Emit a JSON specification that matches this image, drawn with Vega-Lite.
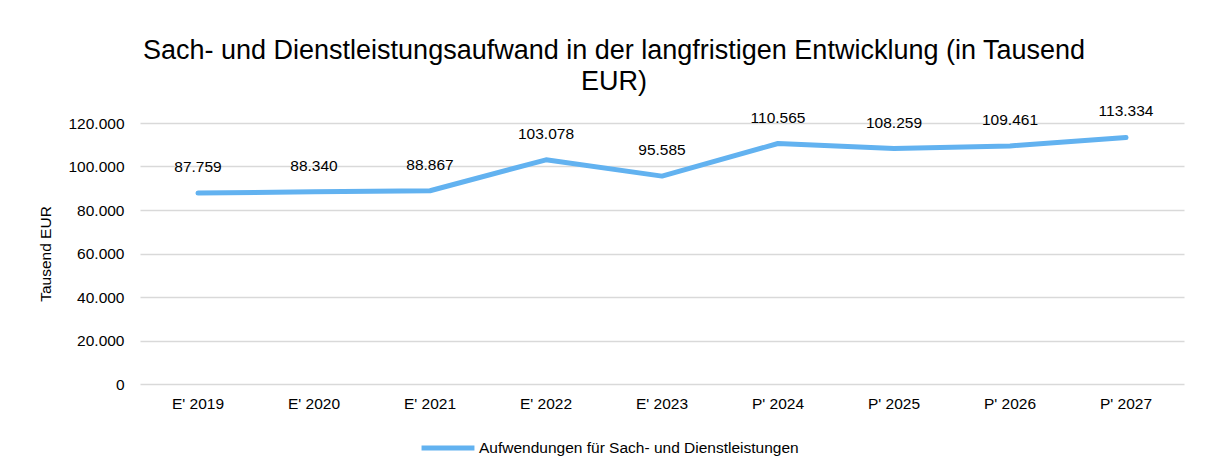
{
  "$schema": "https://vega.github.io/schema/vega-lite/v6.json",
  "width": 1044,
  "height": 261,
  "autosize": {"type": "none"},
  "padding": {"left": 140, "top": 123, "right": 23, "bottom": 88},
  "background": "white",
  "config": {
    "font": "Liberation Sans",
    "view": {"stroke": null},
    "locale": {"number": {"decimal": ",", "thousands": ".", "grouping": [3], "currency": ["", " €"]}}
  },
  "title": {
    "text": ["Sach- und Dienstleistungsaufwand in der langfristigen Entwicklung (in Tausend", "EUR)"],
    "fontSize": 27,
    "fontWeight": "normal",
    "color": "#000000",
    "lineHeight": 31,
    "anchor": "middle",
    "dx": -48,
    "offset": 8
  },
  "data": {
    "values": [
      {"jahr": "E' 2019", "wert": 87759, "serie": "Aufwendungen für Sach- und Dienstleistungen"},
      {"jahr": "E' 2020", "wert": 88340, "serie": "Aufwendungen für Sach- und Dienstleistungen"},
      {"jahr": "E' 2021", "wert": 88867, "serie": "Aufwendungen für Sach- und Dienstleistungen"},
      {"jahr": "E' 2022", "wert": 103078, "serie": "Aufwendungen für Sach- und Dienstleistungen"},
      {"jahr": "E' 2023", "wert": 95585, "serie": "Aufwendungen für Sach- und Dienstleistungen"},
      {"jahr": "P' 2024", "wert": 110565, "serie": "Aufwendungen für Sach- und Dienstleistungen"},
      {"jahr": "P' 2025", "wert": 108259, "serie": "Aufwendungen für Sach- und Dienstleistungen"},
      {"jahr": "P' 2026", "wert": 109461, "serie": "Aufwendungen für Sach- und Dienstleistungen"},
      {"jahr": "P' 2027", "wert": 113334, "serie": "Aufwendungen für Sach- und Dienstleistungen"}
    ]
  },
  "encoding": {
    "x": {
      "field": "jahr",
      "type": "ordinal",
      "sort": null,
      "scale": {"type": "band", "paddingInner": 0, "paddingOuter": 0},
      "axis": {
        "title": null,
        "labelAngle": 0,
        "labelFontSize": 15.5,
        "labelColor": "#000000",
        "labelPadding": 12,
        "domain": false,
        "ticks": false,
        "grid": false
      }
    },
    "y": {
      "field": "wert",
      "type": "quantitative",
      "scale": {"domain": [0, 120000], "nice": false},
      "axis": {
        "title": "Tausend EUR",
        "titleFontSize": 15.5,
        "titleFontWeight": "normal",
        "titleColor": "#000000",
        "titlePadding": 14,
        "values": [0, 20000, 40000, 60000, 80000, 100000, 120000],
        "format": ",d",
        "labelFontSize": 15.5,
        "labelColor": "#000000",
        "labelPadding": 16,
        "domain": false,
        "ticks": false,
        "grid": true,
        "gridColor": "#d9d9d9",
        "gridWidth": 1.5
      }
    }
  },
  "layer": [
    {
      "mark": {"type": "line", "strokeWidth": 5, "strokeCap": "round", "strokeJoin": "round", "interpolate": "linear"},
      "encoding": {
        "color": {
          "field": "serie",
          "type": "nominal",
          "scale": {"range": ["#62b2f0"]},
          "legend": {
            "title": null,
            "orient": "none",
            "legendX": 279,
            "legendY": 296,
            "symbolType": "stroke",
            "symbolSize": 2800,
            "symbolStrokeWidth": 5,
            "labelFontSize": 15.5,
            "labelLimit": 600,
            "labelColor": "#000000",
            "labelOffset": 2
          }
        }
      }
    },
    {
      "mark": {"type": "text", "dy": -26, "fontSize": 15.5, "color": "#000000"},
      "encoding": {
        "text": {"field": "wert", "type": "quantitative", "format": ",d"}
      }
    }
  ]
}
